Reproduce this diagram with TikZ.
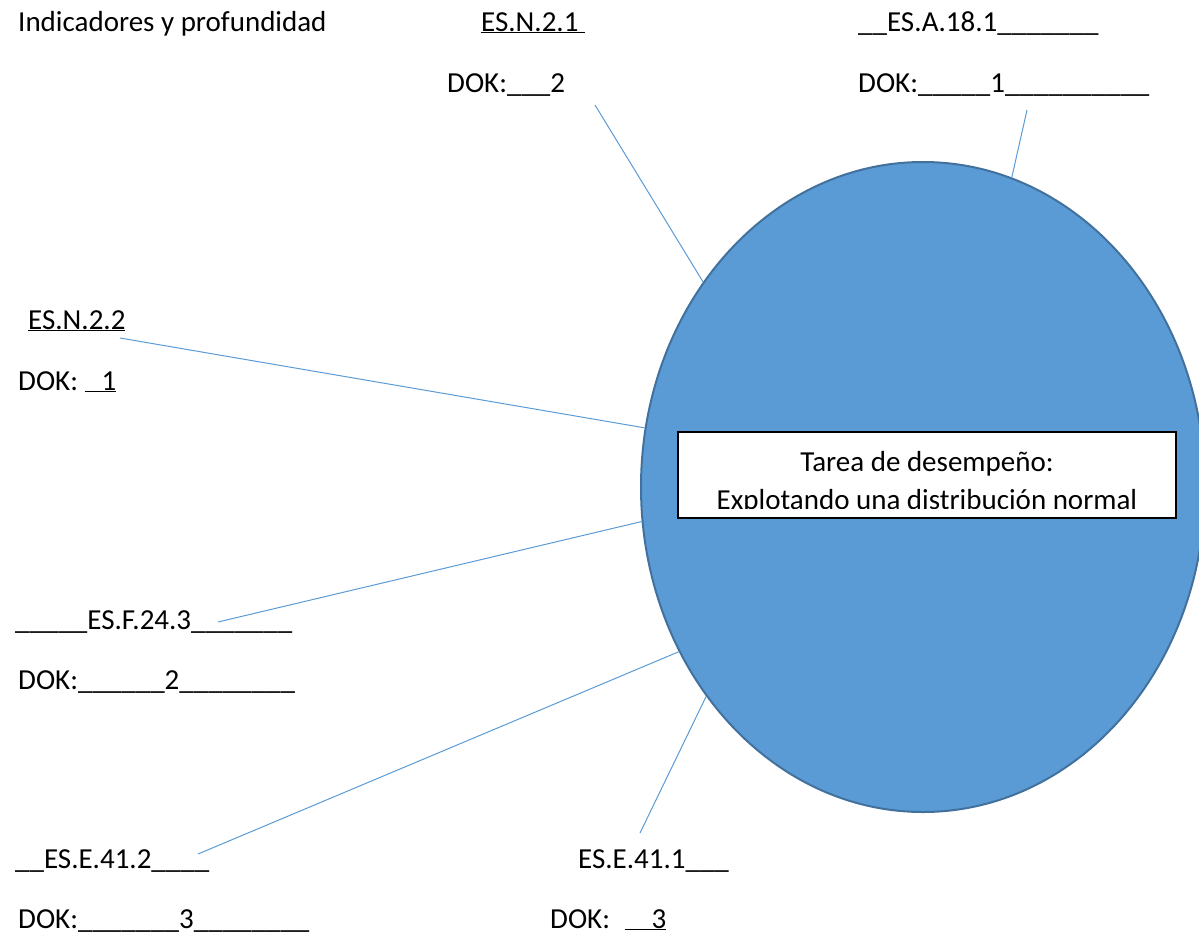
\documentclass[tikz,border=0pt]{standalone}
\usepackage{fontspec}
\setmainfont{Carlito}
\usetikzlibrary{shapes.geometric}
\definecolor{relleno}{HTML}{5B9BD5}
\definecolor{borde}{HTML}{41719C}

\begin{document}
\begin{tikzpicture}[x=1pt, y=-1pt, node font=\fontsize{29}{35}\selectfont,
  etiqueta/.style={anchor=base west, inner sep=0pt},
  enlace/.style={draw=relleno, line width=1pt}]
  \useasboundingbox (0,0) rectangle (1199,935);

  % ovalo central
  \node[ellipse, fill=relleno, draw=borde, line width=2pt,
    minimum width=564pt, minimum height=650pt, inner sep=0pt] (tarea) at (923,487) {};

  % recuadro de la tarea
  \fill[white] (678,432) rectangle (1176,518);
  \begin{scope}
    \clip (678,432) rectangle (1176,508);
    \node[anchor=base, inner sep=0pt] (tarea1) at (927,471) {Tarea de desempeño:};
    \node[anchor=base, inner sep=0pt] (tarea2) at (927,509) {Explotando una distribución normal};
  \end{scope}
  \draw[line width=1.5pt] (678,432) rectangle (1176,518);

  % etiquetas
  \node[etiqueta] (titulo) at (18,31) {Indicadores y profundidad};
  \node[etiqueta] (n21) at (481,31) {\underline{ES.N.2.1\ }};
  \node[etiqueta] (n21dok) at (447,92) {DOK:\_\_\_2};
  \node[etiqueta] (a181) at (858,31) {\_\_ES.A.18.1\_\_\_\_\_\_\_};
  \node[etiqueta] (a181dok) at (858,92) {DOK:\_\_\_\_\_1\_\_\_\_\_\_\_\_\_\_};
  \node[etiqueta] (n22) at (28,329) {\underline{ES.N.2.2}};
  \node[etiqueta] (n22dok) at (18,390) {DOK: \underline{\hspace{17pt}1}};
  \node[etiqueta] (f243) at (15,629) {\_\_\_\_\_ES.F.24.3\_\_\_\_\_\_\_};
  \node[etiqueta] (f243dok) at (18,689) {DOK:\_\_\_\_\_\_2\_\_\_\_\_\_\_\_};
  \node[etiqueta] (e412) at (15,868) {\_\_ES.E.41.2\_\_\_\_};
  \node[etiqueta] (e412dok) at (18,928) {DOK:\_\_\_\_\_\_\_3\_\_\_\_\_\_\_\_};
  \node[etiqueta] (e411) at (578,868) {ES.E.41.1\_\_\_};
  \node[etiqueta] (e411dok) at (550,928) {DOK: \hspace{8pt}\underline{\hspace{27pt}3}};

  % extremos libres de los enlaces
  \coordinate (p1) at (595,105);
  \coordinate (p2) at (1027,110);
  \coordinate (p3) at (120,338);
  \coordinate (p4) at (218,622);
  \coordinate (p5) at (198,854);
  \coordinate (p6) at (640,833);

  \draw[enlace] (p1) -- (tarea.137.3);
  \draw[enlace] (p2) -- (tarea.74.3);
  \draw[enlace] (p3) -- (tarea.168.9);
  \draw[enlace] (p4) -- (tarea.187.3);
  \draw[enlace] (p5) -- (tarea.214.9);
  \draw[enlace] (p6) -- (tarea.224.5);
\end{tikzpicture}
\end{document}
